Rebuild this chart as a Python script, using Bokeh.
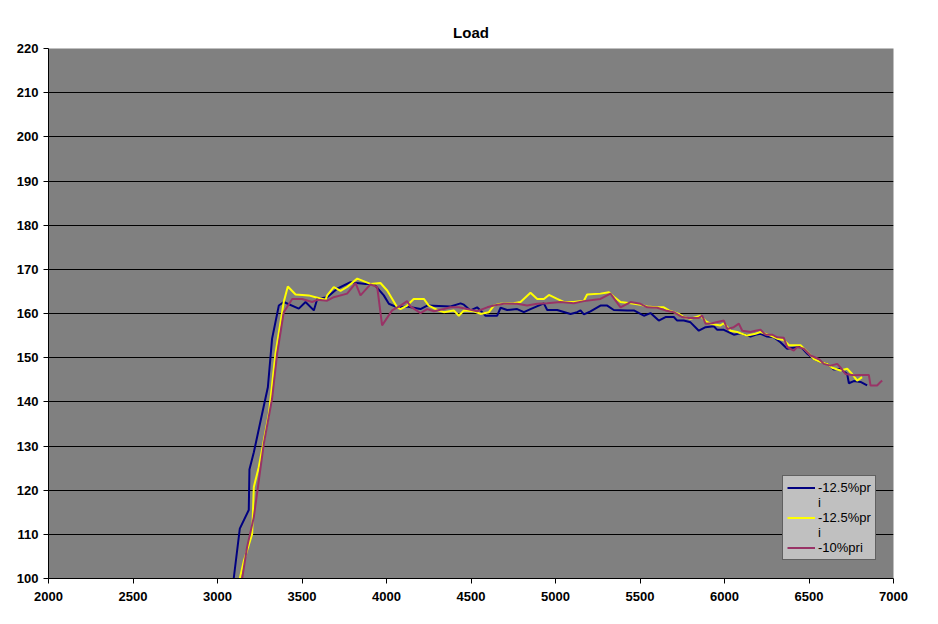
from bokeh.plotting import figure
from bokeh.models import Legend, LegendItem, FixedTicker
from bokeh.embed import file_html
from bokeh.resources import INLINE

# ---- data ----
blue_x = [3096, 3132, 3185, 3189, 3215, 3264, 3298, 3323, 3363, 3392, 3481, 3521, 3570, 3590,
          3649, 3708, 3787, 3876, 3925, 3984, 4014, 4063, 4122, 4201, 4241, 4379, 4438, 4458,
          4497, 4536, 4556, 4586, 4655, 4675, 4714, 4773, 4813, 4852, 4931, 4951, 5010, 5089,
          5128, 5148, 5168, 5207, 5266, 5306, 5345, 5424, 5464, 5503, 5523, 5562, 5611, 5651,
          5700, 5720, 5759, 5799, 5848, 5888, 5937, 5957, 5996, 6055, 6095, 6154, 6183, 6213,
          6252, 6292, 6331, 6371, 6450, 6490, 6529, 6568, 6608, 6647, 6686, 6726, 6736, 6765,
          6805, 6844]
blue_y = [100.0, 111.3, 115.5, 124.7, 128.6, 137.3, 143.3, 154.3, 161.8, 162.6, 161.1, 162.6,
          160.7, 163.3, 163.7, 165.6, 167.1, 166.7, 166.7, 164.1, 162.2, 161.4, 161.6, 161.0,
          161.8, 161.6, 162.3, 162.0, 160.7, 161.4, 160.7, 159.5, 159.5, 161.3, 160.8, 161.0,
          160.3, 161.0, 162.3, 160.8, 160.8, 159.9, 160.3, 160.7, 159.8, 160.5, 161.8, 161.8,
          160.8, 160.7, 160.7, 159.9, 159.5, 160.1, 158.4, 159.2, 159.2, 158.4, 158.4, 158.0,
          156.1, 156.9, 157.1, 156.3, 156.3, 155.2, 155.5, 154.8, 155.2, 155.4, 154.8, 154.6,
          153.5, 152.0, 152.5, 150.9, 149.7, 149.0, 148.6, 147.3, 147.5, 146.3, 144.2, 144.7,
          144.5, 143.7]

yellow_x = [3132, 3156, 3205, 3215, 3244, 3304, 3343, 3392, 3416, 3462, 3540, 3580, 3639, 3649,
            3688, 3728, 3767, 3827, 3905, 3964, 4004, 4063, 4083, 4122, 4161, 4221, 4250, 4300,
            4339, 4398, 4428, 4458, 4517, 4556, 4606, 4635, 4675, 4753, 4793, 4852, 4892, 4931,
            4961, 5010, 5049, 5108, 5168, 5187, 5266, 5316, 5345, 5385, 5444, 5503, 5543, 5592,
            5641, 5671, 5730, 5759, 5799, 5858, 5888, 5917, 5976, 5996, 6036, 6075, 6134, 6183,
            6213, 6272, 6312, 6351, 6381, 6450, 6490, 6529, 6568, 6608, 6637, 6686, 6726, 6755,
            6785, 6814]
yellow_y = [100.0, 104.0, 110.1, 120.7, 125.2, 137.3, 150.9, 162.6, 166.1, 164.3, 164.1, 163.7,
            163.1, 164.1, 166.0, 165.1, 166.0, 167.9, 166.7, 166.9, 165.2, 161.4, 161.0, 161.8,
            163.3, 163.3, 161.8, 160.8, 160.3, 160.7, 159.5, 160.7, 160.5, 159.9, 160.3, 161.8,
            162.2, 162.3, 162.6, 164.7, 163.3, 163.3, 164.2, 163.3, 162.6, 162.6, 162.9, 164.3,
            164.5, 164.8, 163.8, 162.6, 162.3, 162.0, 161.6, 161.4, 161.4, 160.7, 159.9, 159.2,
            158.8, 159.5, 158.3, 157.7, 157.3, 157.8, 156.1, 155.8, 155.0, 155.4, 155.8, 155.0,
            154.3, 154.0, 152.8, 152.8, 151.3, 149.7, 149.0, 148.6, 147.7, 147.1, 147.5, 146.3,
            144.8, 145.6]

purple_x = [3146, 3175, 3215, 3274, 3323, 3353, 3392, 3442, 3501, 3560, 3590, 3649, 3688, 3767,
            3817, 3846, 3905, 3945, 3974, 4033, 4083, 4122, 4142, 4201, 4241, 4280, 4339, 4379,
            4428, 4477, 4536, 4596, 4635, 4694, 4773, 4832, 4892, 4951, 5030, 5108, 5168, 5266,
            5325, 5385, 5444, 5503, 5543, 5602, 5651, 5700, 5750, 5789, 5848, 5868, 5888, 5927,
            5996, 6016, 6055, 6085, 6105, 6154, 6183, 6213, 6243, 6282, 6312, 6351, 6371, 6410,
            6430, 6469, 6509, 6558, 6588, 6627, 6667, 6686, 6716, 6765, 6805, 6854, 6864, 6903,
            6923, 6933]
purple_y = [100.0, 107.1, 113.9, 130.5, 140.7, 150.9, 160.3, 163.3, 163.3, 162.6, 163.1, 162.9,
            163.7, 164.5, 166.9, 164.1, 166.6, 166.0, 157.3, 160.7, 161.8, 162.8, 161.6, 160.1,
            161.0, 160.5, 161.0, 161.4, 161.4, 161.0, 160.5, 161.4, 161.8, 162.2, 162.2, 161.8,
            162.2, 162.3, 162.6, 162.3, 162.8, 163.3, 164.5, 161.4, 162.6, 162.2, 161.4, 161.3,
            160.7, 160.3, 159.2, 159.0, 159.0, 159.5, 157.7, 157.8, 158.4, 156.5, 156.9, 157.7,
            156.1, 155.8, 156.1, 156.3, 155.2, 155.2, 154.6, 154.5, 152.4, 151.6, 152.4, 152.0,
            150.5, 149.7, 148.6, 148.2, 148.6, 147.8, 146.3, 146.0, 146.1, 146.1, 143.7, 143.7,
            144.5, 144.8]

# legend labels as they appear (wrapped) in the reference legend box
legend_lines = ["-12.5%pr", "i", "-12.5%pr", "i", "-10%pri"]
x_ticks = [2000, 2500, 3000, 3500, 4000, 4500, 5000, 5500, 6000, 6500, 7000]
y_ticks = [100, 110, 120, 130, 140, 150, 160, 170, 180, 190, 200, 210, 220]

FONT = "Liberation Sans"

p = figure(width=930, height=616, x_range=(2000, 7000), y_range=(100, 220),
           output_backend="svg", toolbar_location=None, title="Load",
           min_border_left=48, min_border_right=37, min_border_top=48, min_border_bottom=38)

p.background_fill_color = "#808080"
p.border_fill_color = "white"
p.outline_line_color = None

p.title.align = "center"
p.title.text_font = FONT
p.title.text_font_style = "bold"
p.title.text_font_size = "15px"
p.title.text_color = "black"
p.title.standoff = 16

for ax in (p.xaxis[0], p.yaxis[0]):
    ax.axis_line_color = "black"
    ax.major_tick_line_color = "black"
    ax.major_tick_out = 5
    ax.major_tick_in = 0
    ax.minor_tick_line_color = None
    ax.major_label_text_font = FONT
    ax.major_label_text_font_style = "bold"
    ax.major_label_text_font_size = "13px"
    ax.major_label_text_color = "black"

p.xaxis[0].ticker = FixedTicker(ticks=x_ticks)
p.yaxis[0].ticker = FixedTicker(ticks=y_ticks)
p.xaxis[0].major_label_standoff = 8
p.yaxis[0].major_label_standoff = 5

p.xgrid.grid_line_color = None
p.ygrid.ticker = FixedTicker(ticks=y_ticks[1:-1])
p.ygrid.grid_line_color = "black"
p.ygrid.grid_line_width = 1

r1 = p.line(blue_x, blue_y, line_color="#000080", line_width=2)
r2 = p.line(yellow_x, yellow_y, line_color="#FFFF00", line_width=2)
r3 = p.line(purple_x, purple_y, line_color="#993366", line_width=2)
# invisible renderers for the wrapped continuation lines of the legend labels
blank = p.line([], [], line_alpha=0)

legend = Legend(items=[LegendItem(label=legend_lines[0], renderers=[r1]),
                       LegendItem(label=legend_lines[1], renderers=[blank]),
                       LegendItem(label=legend_lines[2], renderers=[r2]),
                       LegendItem(label=legend_lines[3], renderers=[blank]),
                       LegendItem(label=legend_lines[4], renderers=[r3])],
                location=(734, 18))
legend.background_fill_color = "#C0C0C0"
legend.background_fill_alpha = 1
legend.border_line_color = "black"
legend.border_line_width = 1
legend.label_text_font = FONT
legend.label_text_font_size = "13px"
legend.label_text_color = "black"
legend.glyph_width = 28
legend.label_standoff = 3
legend.spacing = 0
legend.padding = 4
legend.margin = 0
legend.label_height = 13
legend.glyph_height = 13
legend.label_width = 44
p.add_layout(legend)

open("out.html", "w").write(file_html(p, INLINE))
